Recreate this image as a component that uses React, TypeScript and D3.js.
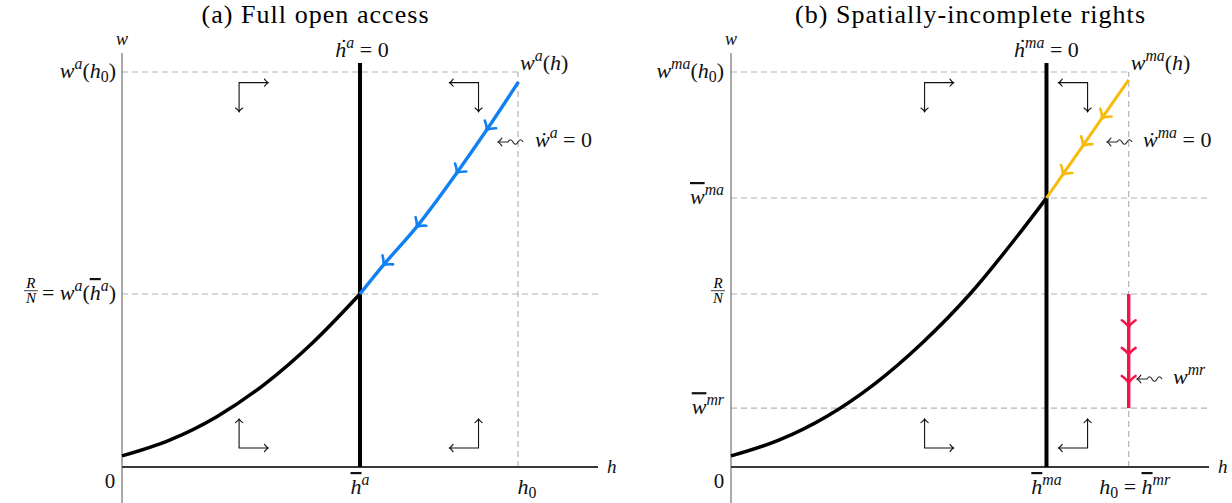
import React, { useEffect, useRef } from 'react'
import * as d3 from 'd3'

const W = 1232
const H = 503
const SERIF = 'Liberation Serif'

// (a) full open access
const curveAH = [0, 0.1, 0.2, 0.3, 0.4, 0.5]
const curveAW = [0.028, 0.068, 0.128, 0.21, 0.314, 0.438]
const blueH = [0.5, 0.549, 0.619, 0.703, 0.766, 0.833]
const blueW = [0.438, 0.511, 0.608, 0.744, 0.853, 0.975]
const hBarA = 0.5

// shared levels
const h0 = 0.832
const wTop = 1.0
const rOverN = 0.438

// (b) spatially-incomplete rights
const curveBH = [0, 0.1, 0.2, 0.3, 0.4, 0.5, 0.6, 0.66]
const curveBW = [0.028, 0.068, 0.128, 0.21, 0.314, 0.438, 0.586, 0.681]
const orangeH = [0.66, 0.694, 0.736, 0.776, 0.832]
const orangeW = [0.681, 0.74, 0.813, 0.883, 0.98]
const redW = [0.438, 0.354, 0.284, 0.213, 0.149]
const hBarMA = 0.66
const wBarMA = 0.681
const wBarMR = 0.149

// phase arrows (corner positions)
const phaseHA = [0.246, 0.749]
const phaseHB = [0.405, 0.746]
const phaseW = [0.973, 0.048]

type Seg = [string, string?]

export default function App() {
  const ref = useRef<SVGSVGElement>(null)

  useEffect(() => {
    const svg = d3.select(ref.current)
    svg.selectAll('*').remove()

    const y = d3.scaleLinear().domain([0, 1]).range([467, 72])
    const xA = d3.scaleLinear().domain([0, 1]).range([122, 598])
    const xB = d3.scaleLinear().domain([0, 1]).range([731, 1209])

    const mathText = (g: any, x: number, yy: number, segs: Seg[], anchor = 'start', size = 22) => {
      const t = g.append('text')
        .attr('x', x).attr('y', yy)
        .attr('text-anchor', anchor)
        .attr('font-size', size)
        .attr('font-family', SERIF)
        .attr('fill', '#111')
        .attr('xml:space', 'preserve')
      let shift = 0
      segs.forEach(([s, f = '']) => {
        const off = f.includes('^') ? -0.42 * size : f.includes('_') ? 0.2 * size : 0
        const ts = t.append('tspan').attr('dy', off - shift).attr('font-family', SERIF).text(s)
        shift = off
        if (f.includes('i')) ts.attr('font-style', 'italic')
        if (off !== 0) ts.attr('font-size', size * 0.72)
        if (f.includes('o')) ts.attr('text-decoration', 'overline')
      })
      return t
    }

    const chevron = (g: any, x: number, yy: number, angle: number, color: string, k = 1, sw = 2.2) => {
      g.append('path')
        .attr('d', `M${-6 * k},${-6 * k} C${-3.5 * k},${-2.5 * k} ${-1.5 * k},${-0.7 * k} 0,0 C${-1.5 * k},${0.7 * k} ${-3.5 * k},${2.5 * k} ${-6 * k},${6 * k}`)
        .attr('transform', `translate(${x},${yy}) rotate(${angle})`)
        .attr('fill', 'none')
        .attr('stroke', color)
        .attr('stroke-width', sw)
        .attr('stroke-linecap', 'round')
    }

    const dashed = (g: any, x1: number, y1: number, x2: number, y2: number) => {
      g.append('line')
        .attr('x1', x1).attr('y1', y1).attr('x2', x2).attr('y2', y2)
        .attr('stroke', '#b4b4b4')
        .attr('stroke-width', 1.2)
        .attr('stroke-dasharray', '6 4')
    }

    const squiggle = (g: any, x0: number, yy: number) => {
      g.append('path')
        .attr('d', `M${x0},${yy} h10 c1.5,-3 3.5,-3 5,0 s3.5,3 5,0 s3.5,-3 5,0`)
        .attr('fill', 'none')
        .attr('stroke', '#222')
        .attr('stroke-width', 1.1)
      chevron(g, x0, yy, 180, '#222', 0.65, 1.1)
    }

    // R/N placed just left of the given x
    const fraction = (g: any, right: number, cy: number) => {
      const cx = right - 7
      g.append('text').attr('x', cx).attr('y', cy - 5.5).attr('text-anchor', 'middle')
        .attr('font-size', 15).attr('font-family', SERIF).attr('font-style', 'italic').text('R')
      g.append('line').attr('x1', cx - 7).attr('x2', cx + 7).attr('y1', cy - 3.3).attr('y2', cy - 3.3)
        .attr('stroke', '#111').attr('stroke-width', 0.8)
      g.append('text').attr('x', cx).attr('y', cy + 9).attr('text-anchor', 'middle')
        .attr('font-size', 15).attr('font-family', SERIF).attr('font-style', 'italic').text('N')
    }

    const flowPath = (g: any, pts: [number, number][], color: string, sw: number, curve: any, toStart: boolean) => {
      g.append('path')
        .attr('d', d3.line().curve(curve)(pts))
        .attr('fill', 'none')
        .attr('stroke', color)
        .attr('stroke-width', sw)
      for (let i = 1; i < pts.length - 1; i++) {
        const a = toStart ? pts[i + 1] : pts[i - 1]
        const b = toStart ? pts[i - 1] : pts[i + 1]
        const ang = (Math.atan2(b[1] - a[1], b[0] - a[0]) * 180) / Math.PI
        chevron(g, pts[i][0], pts[i][1], ang, color, 1.15, 2.6)
      }
    }

    const phaseArrows = (g: any, x: any, hs: number[], hBar: number) => {
      hs.forEach((h) => {
        phaseW.forEach((w) => {
          const cx = x(h)
          const cy = y(w)
          const dh = h < hBar ? 1 : -1
          const dv = w > rOverN ? 1 : -1
          const hx = cx + dh * 29
          const vy = cy + dv * 29
          g.append('path')
            .attr('d', `M${hx},${cy} L${cx},${cy} L${cx},${vy}`)
            .attr('fill', 'none')
            .attr('stroke', '#111')
            .attr('stroke-width', 1.1)
          chevron(g, hx, cy, dh > 0 ? 0 : 180, '#111', 0.6, 1.1)
          chevron(g, cx, vy, dv > 0 ? 90 : -90, '#111', 0.6, 1.1)
        })
      })
    }

    const frame = (g: any, x: any, hBar: number, cH: number[], cW: number[], hLines: [number, number][]) => {
      hLines.forEach(([w, hEnd]) => dashed(g, x(0), y(w), x(hEnd), y(w)))
      dashed(g, x(h0), y(0), x(h0), y(wTop))
      g.append('line').attr('x1', x(0)).attr('x2', x(0)).attr('y1', y(1.048)).attr('y2', H)
        .attr('stroke', '#555').attr('stroke-width', 1)
      g.append('line').attr('x1', x(0)).attr('x2', x(1)).attr('y1', y(0)).attr('y2', y(0))
        .attr('stroke', '#383838').attr('stroke-width', 2)
      g.append('path')
        .attr('d', d3.line().curve(d3.curveMonotoneX)(cH.map((h, i) => [x(h), y(cW[i])] as [number, number])))
        .attr('fill', 'none').attr('stroke', '#000').attr('stroke-width', 3.5)
      g.append('line').attr('x1', x(hBar)).attr('x2', x(hBar)).attr('y1', y(0)).attr('y2', y(1.023))
        .attr('stroke', '#000').attr('stroke-width', 4)
      mathText(g, x(0), 45, [['w', 'i']], 'middle', 18)
      mathText(g, x(1) + 9, 473, [['h', 'i']], 'start', 19)
      mathText(g, x(0) - 12, 488, [['0']], 'middle', 21)
    }

    const title = (g: any, cx: number, len: number, s: string) => {
      g.append('text').attr('x', cx).attr('y', 23).attr('text-anchor', 'middle')
        .attr('font-size', 26)
        .attr('font-family', SERIF)
        .attr('textLength', len).attr('lengthAdjust', 'spacing')
        .text(s)
    }

    // ---------- panel (a)
    const gA = svg.append('g')
    frame(gA, xA, hBarA, curveAH, curveAW, [[wTop, h0], [rOverN, 1]])
    flowPath(gA, blueH.map((h, i) => [xA(h), y(blueW[i])] as [number, number]), '#1180f2', 3.4, d3.curveMonotoneX, true)
    phaseArrows(gA, xA, phaseHA, hBarA)

    title(gA, 315, 227, '(a) Full open access')
    mathText(gA, xA(0) - 6, y(wTop) + 6, [['w', 'i'], ['a', 'i^'], ['('], ['h', 'i'], ['0', '_'], [')']], 'end')
    const eqA = mathText(gA, xA(0) - 6, y(rOverN) + 6, [['= '], ['w', 'i'], ['a', 'i^'], ['('], ['h', 'io'], ['a', 'i^'], [')']], 'end')
    fraction(gA, eqA.node().getBBox().x - 4, y(rOverN))
    mathText(gA, xA(hBarA), 494, [['h', 'io'], ['a', 'i^']], 'middle')
    mathText(gA, xA(h0) + 9, 494, [['h', 'i'], ['0', '_']], 'middle')
    mathText(gA, xA(hBarA) + 2, 57, [['ḣ', 'i'], ['a', 'i^'], [' = 0']], 'middle')
    mathText(gA, xA(h0) + 2, 70, [['w', 'i'], ['a', 'i^'], ['('], ['h', 'i'], [')']], 'start')
    squiggle(gA, 498, 142)
    mathText(gA, 535, 147, [['ẇ', 'i'], ['a', 'i^'], [' = 0']], 'start')

    // ---------- panel (b)
    const gB = svg.append('g')
    frame(gB, xB, hBarMA, curveBH, curveBW, [[wTop, h0], [wBarMA, 1], [rOverN, 1], [wBarMR, 1]])
    flowPath(gB, orangeH.map((h, i) => [xB(h), y(orangeW[i])] as [number, number]), '#f9bb0b', 3, d3.curveLinear, true)
    flowPath(gB, redW.map((w) => [xB(h0), y(w)] as [number, number]), '#f5134b', 3.4, d3.curveLinear, false)
    phaseArrows(gB, xB, phaseHB, hBarMA)

    title(gB, 970, 350, '(b) Spatially-incomplete rights')
    mathText(gB, xB(0) - 7, y(wTop) + 6, [['w', 'i'], ['ma', 'i^'], ['('], ['h', 'i'], ['0', '_'], [')']], 'end')
    mathText(gB, xB(0) - 7, y(wBarMA) + 6, [['w', 'io'], ['ma', 'i^']], 'end')
    fraction(gB, xB(0) - 6, y(rOverN))
    mathText(gB, xB(0) - 7, y(wBarMR) + 6, [['w', 'io'], ['mr', 'i^']], 'end')
    mathText(gB, xB(hBarMA), 494, [['h', 'io'], ['ma', 'i^']], 'middle')
    mathText(gB, xB(h0) + 6, 494, [['h', 'i'], ['0', '_'], [' = '], ['h', 'io'], ['mr', 'i^']], 'middle')
    mathText(gB, xB(hBarMA), 57, [['ḣ', 'i'], ['ma', 'i^'], [' = 0']], 'middle')
    mathText(gB, xB(h0) + 2, 70, [['w', 'i'], ['ma', 'i^'], ['('], ['h', 'i'], [')']], 'start')
    squiggle(gB, 1107, 142)
    mathText(gB, 1143, 147, [['ẇ', 'i'], ['ma', 'i^'], [' = 0']], 'start')
    squiggle(gB, 1137, 379)
    mathText(gB, 1173, 384, [['w', 'i'], ['mr', 'i^']], 'start')
  }, [])

  return (
    <div style={{ position: 'absolute', left: 0, top: 0 }}>
      <svg
        ref={ref}
        width={W}
        height={H}
        style={{ display: 'block', background: '#fff', fontFamily: SERIF }}
      />
    </div>
  )
}
